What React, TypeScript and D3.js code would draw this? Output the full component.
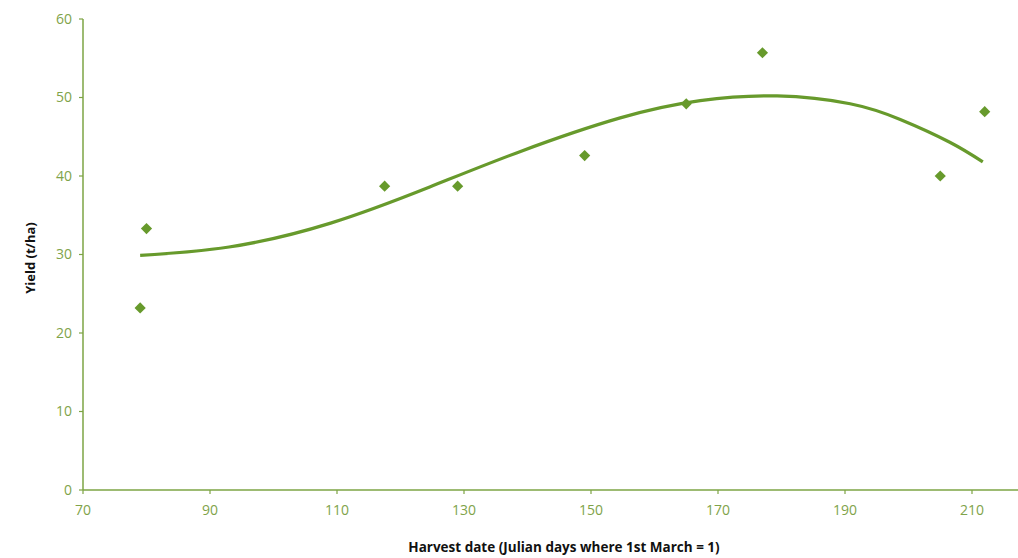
import React from "react";
import * as d3 from "d3";

const harvestDays = [79, 80, 117.5, 129, 149, 165, 177, 205, 212];
const yields = [23.2, 33.3, 38.7, 38.7, 42.6, 49.2, 55.7, 40.0, 48.2];

const trendDays = [79, 93, 109, 124.6, 138.8, 154.6, 167.2, 179.3, 190.8, 198.7, 206.5, 211.7];
const trendYields = [29.9, 30.95, 34.0, 38.6, 43.1, 47.4, 49.6, 50.2, 49.2, 47.2, 44.3, 41.8];

const xTicks = [70, 90, 110, 130, 150, 170, 190, 210];
const yTicks = [0, 10, 20, 30, 40, 50, 60];

const W = 1018;
const H = 558;
const left = 83;
const top = 19;
const bottom = 490;

const axisColor = "#7da444";
const labelColor = "#7fa34a";
const markColor = "#679a2c";
const font = "'Open Sans', sans-serif";

export default function App() {
  const x = d3.scaleLinear().domain([70, 210]).range([left, 972]);
  const y = d3.scaleLinear().domain([0, 60]).range([bottom, top]);
  const line = d3
    .line<number>()
    .x((_, i) => x(trendDays[i]))
    .y((d) => y(d))
    .curve(d3.curveNatural);
  const diamond = d3.symbol().type(d3.symbolDiamond2).size(80)();

  return (
    <svg width={W} height={H} style={{ position: "absolute", left: 0, top: 0 }}>
      <rect width={W} height={H} fill="#fff" />
      <line x1={left} x2={left} y1={top} y2={bottom} stroke={axisColor} strokeWidth={1.5} />
      <line x1={left} x2={W} y1={bottom} y2={bottom} stroke={axisColor} strokeWidth={1.5} />
      {yTicks.map((t) => (
        <g key={"y" + t}>
          <line x1={left - 4} x2={left} y1={y(t)} y2={y(t)} stroke={axisColor} strokeWidth={1.2} />
          <text
            x={72}
            y={y(t)}
            dy="0.35em"
            textAnchor="end"
            fontFamily={font}
            fontSize={14}
            fill={labelColor}
          >
            {t}
          </text>
        </g>
      ))}
      {xTicks.map((t) => (
        <g key={"x" + t}>
          <line x1={x(t)} x2={x(t)} y1={bottom} y2={bottom + 4} stroke={axisColor} strokeWidth={1.2} />
          <text
            x={x(t)}
            y={515}
            textAnchor="middle"
            fontFamily={font}
            fontSize={14}
            fill={labelColor}
          >
            {t}
          </text>
        </g>
      ))}
      <text
        x={564}
        y={552}
        textAnchor="middle"
        fontFamily={font}
        fontWeight="bold"
        fontSize={13.5}
        fill="#111"
      >
        Harvest date (Julian days where 1st March = 1)
      </text>
      <text
        transform={`translate(35, 258) rotate(-90)`}
        textAnchor="middle"
        fontFamily={font}
        fontWeight="bold"
        fontSize={13}
        fill="#111"
      >
        Yield (t/ha)
      </text>
      <path d={line(trendYields) || ""} fill="none" stroke={markColor} strokeWidth={3.2} />
      {harvestDays.map((d, i) => (
        <path
          key={"p" + i}
          d={diamond || ""}
          transform={`translate(${x(d)},${y(yields[i])})`}
          fill={markColor}
        />
      ))}
    </svg>
  );
}
